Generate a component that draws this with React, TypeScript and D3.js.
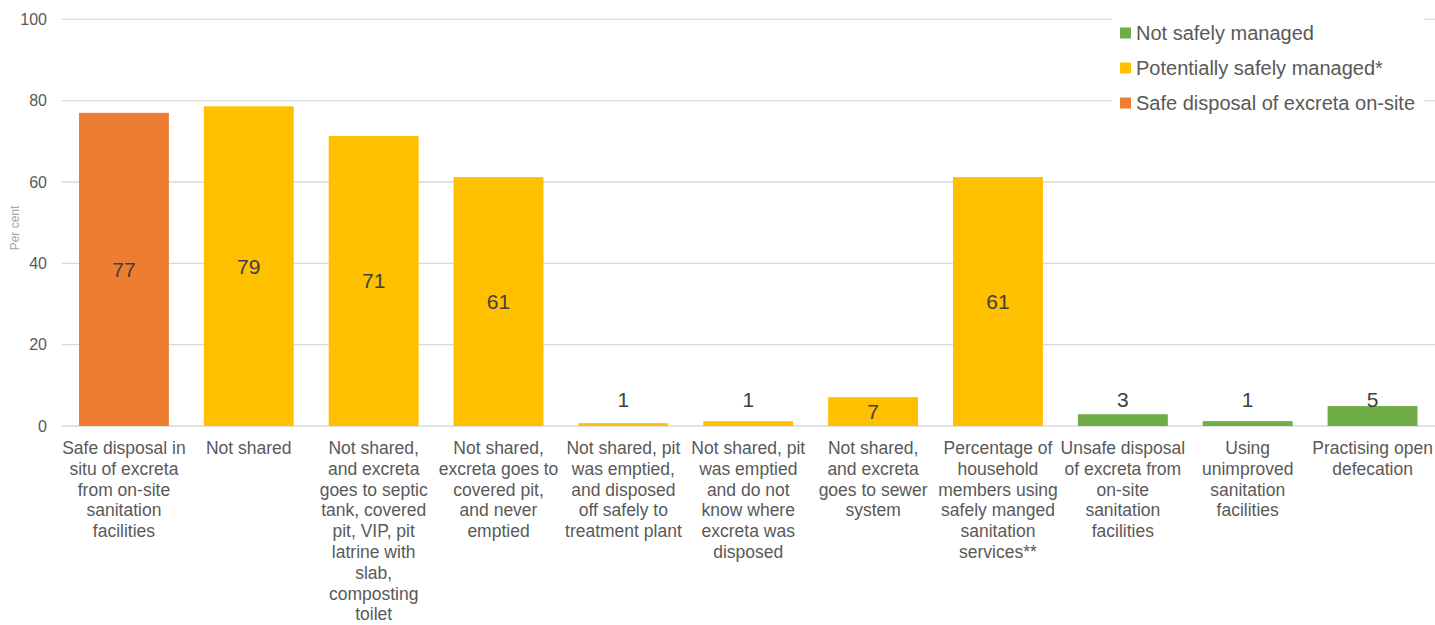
import React from "react";
import * as d3 from "d3";

const categories: string[][] = [
  ["Safe disposal in", "situ of excreta", "from on-site", "sanitation", "facilities"],
  ["Not shared"],
  ["Not shared,", "and excreta", "goes to septic", "tank, covered", "pit, VIP, pit", "latrine with", "slab,", "composting", "toilet"],
  ["Not shared,", "excreta goes to", "covered pit,", "and never", "emptied"],
  ["Not shared, pit", "was emptied,", "and disposed", "off safely to", "treatment plant"],
  ["Not shared, pit", "was emptied", "and do not", "know where", "excreta was", "disposed"],
  ["Not shared,", "and excreta", "goes to sewer", "system"],
  ["Percentage of", "household", "members using", "safely manged", "sanitation", "services**"],
  ["Unsafe disposal", "of excreta from", "on-site", "sanitation", "facilities"],
  ["Using", "unimproved", "sanitation", "facilities"],
  ["Practising open", "defecation"],
];
const values: number[] = [77.0, 78.6, 71.3, 61.2, 0.7, 1.2, 7.1, 61.2, 2.9, 1.2, 4.9];
const labels: string[] = ["77", "79", "71", "61", "1", "1", "7", "61", "3", "1", "5"];
const groups: string[] = ["safe", "potential", "potential", "potential", "potential", "potential", "potential", "potential", "not", "not", "not"];
const legendNames: string[] = ["Not safely managed", "Potentially safely managed*", "Safe disposal of excreta on-site"];
const legendKeys: string[] = ["not", "potential", "safe"];
const yTicks: number[] = [0, 20, 40, 60, 80, 100];

const colors: Record<string, string> = { safe: "#ED7D31", potential: "#FFC000", not: "#70AD47" };
const font = "'Liberation Sans', Arial, sans-serif";

export default function App() {
  const W = 1435, H = 625;
  const x = d3.scaleBand<number>().domain(d3.range(values.length)).range([61.5, 1435]).paddingInner(0.28).paddingOuter(0.14);
  const y = d3.scaleLinear().domain([0, 100]).range([426, 19.3]);

  return (
    <svg width={W} height={H} style={{ position: "absolute", left: 0, top: 0, background: "#fff" }} fontFamily={font}>
      {yTicks.map((t) => (
        <g key={t}>
          <line x1={61.5} x2={1435} y1={y(t)} y2={y(t)} stroke="#d9d9d9" strokeWidth={1.3} />
          <text x={47} y={y(t)} dy="0.35em" textAnchor="end" fontSize={16} fill="#595959">{t}</text>
        </g>
      ))}
      <text transform={`translate(19,${228}) rotate(-90)`} textAnchor="middle" fontSize={12} fill="#a6a6a6">Per cent</text>
      {values.map((v, i) => (
        <rect key={i} x={x(i)} y={y(v)} width={x.bandwidth()} height={y(0) - y(v)} fill={colors[groups[i]]} />
      ))}
      {values.map((v, i) => {
        const cx = (x(i) as number) + x.bandwidth() / 2;
        const cy = v >= 7 ? (y(v) + y(0)) / 2 : y(0) - 26;
        return (
          <text key={i} x={cx} y={cy} dy="0.35em" textAnchor="middle" fontSize={21} fill="#404040">{labels[i]}</text>
        );
      })}
      {categories.map((lines, i) => {
        const cx = (x(i) as number) + x.bandwidth() / 2;
        return (
          <text key={i} x={cx} y={454} textAnchor="middle" fontSize={17.5} fill="#595959">
            {lines.map((l, j) => (
              <tspan key={j} x={cx} dy={j === 0 ? 0 : 20.8}>{l}</tspan>
            ))}
          </text>
        );
      })}
      <rect x={1112} y={12} width={312} height={108} fill="#fff" />
      {legendKeys.map((k, i) => (
        <g key={k}>
          <rect x={1120} y={33 + i * 35 - 5.5} width={11} height={11} fill={colors[k]} />
          <text x={1136} y={33 + i * 35} dy="0.35em" fontSize={20} fill="#595959">{legendNames[i]}</text>
        </g>
      ))}
    </svg>
  );
}
